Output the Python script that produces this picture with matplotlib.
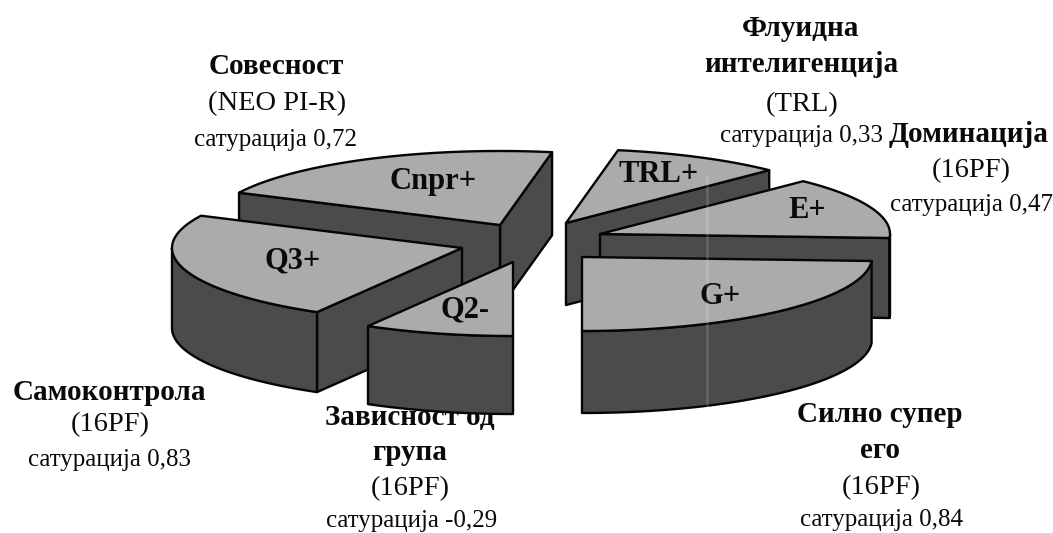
import numpy as np
import matplotlib
matplotlib.use("Agg")
import matplotlib.pyplot as plt
from matplotlib.patches import Polygon

plt.rcParams['font.family'] = ['Liberation Serif', 'DejaVu Serif']

# ---- data -----------------------------------------------------------
slice_labels = ['G+', 'E+', 'TRL+', 'Cnpr+', 'Q3+', 'Q2-']
saturation = [0.84, 0.47, 0.33, 0.72, 0.83, -0.29]
headings = [['Силно супер', 'его'], ['Доминација'], ['Флуидна', 'интелигенција'],
            ['Совесност'], ['Самоконтрола'], ['Зависност од', 'група']]
sources = ['(16PF)', '(16PF)', '(TRL)', '(NEO PI-R)', '(16PF)', '(16PF)']
sat_text = ['сатурација 0,84', 'сатурација 0,47', 'сатурација 0,33',
            'сатурација 0,72', 'сатурација 0,83', 'сатурација -0,29']

# ---- layout / style --------------------------------------------------
W, H = 1053, 533
START = -90.0
RX, RY = 290, 74
depth = [82, 80, 82, 83, 80, 78]
apex = [(582, 257), (600, 234), (566, 223), (500, 225), (462, 248), (513, 262)]
label_xy = [(720, 296), (807, 211), (659, 174), (433, 182), (293, 261), (465, 310)]
draw_order = [3, 4, 5, 2, 1, 0]
text_rows = [
    [(880, 414), (880, 450), (881, 488), (881, 520)],
    [(969, 135), (971, 171), (971, 205)],
    [(801, 29), (801, 65), (802, 105), (802, 136)],
    [(276, 66), (277, 104), (276, 140)],
    [(109, 393), (110, 425), (110, 460)],
    [(410, 418), (410, 453), (410, 489), (412, 521)],
]
TOP = '#ababab'
SIDE = '#4b4b4b'
EDGE = '#050505'
LW = 1.7
INK = '#0a0a0a'

fig = plt.figure(figsize=(W / 100, H / 100), dpi=100, facecolor='white')
ax = fig.add_axes([0, 0, 1, 1])
ax.set_xlim(0, W)
ax.set_ylim(H, 0)
ax.axis('off')

# text sits below the slices: the slices cover its top edge
for heads, src, sat, rows in zip(headings, sources, sat_text, text_rows):
    strings = heads + [src, sat]
    for i, (s, (x, y)) in enumerate(zip(strings, rows)):
        if i < len(heads):
            ax.text(x, y, s, ha='center', va='center', fontsize=21, fontweight='bold', color=INK, zorder=1)
        elif i == len(heads):
            ax.text(x, y, s, ha='center', va='center', fontsize=20.5, color=INK, zorder=1)
        else:
            ax.text(x, y, s, ha='center', va='center', fontsize=18, color=INK, zorder=1)

sizes = np.abs(saturation)
edges = START + np.concatenate([[0], np.cumsum(sizes)]) / sizes.sum() * 360


def pt(c, t):
    t = np.radians(t)
    return np.column_stack([c[0] + RX * np.cos(t), c[1] - RY * np.sin(t)])


z = 2
for k in draw_order:
    c, a1, a2, d = apex[k], edges[k], edges[k + 1], depth[k]
    # straight walls, only if they face the viewer
    for a, n in ((a1, a1 - 90), (a2, a2 + 90)):
        if np.sin(np.radians(n)) < -1e-6:
            p = pt(c, np.array([a]))[0]
            quad = [c, p, (p[0], p[1] + d), (c[0], c[1] + d)]
            ax.add_patch(Polygon(quad, fc=SIDE, ec=EDGE, lw=LW, zorder=z, joinstyle='round'))
            z += 1
    # outer wall: the part of the arc on the near half
    ts = np.linspace(a1, a2, 120)
    near = ts[np.sin(np.radians(ts)) < 0]
    if len(near) > 1:
        arc = pt(c, near)
        low = arc + [0, d]
        ax.add_patch(Polygon(np.vstack([arc, low[::-1]]), fc=SIDE, ec=EDGE, lw=LW, zorder=z, joinstyle='round'))
        z += 1
    # top face
    ax.add_patch(Polygon(np.vstack([[c], pt(c, ts)]), fc=TOP, ec=EDGE, lw=LW, zorder=z, joinstyle='round'))
    z += 1

for s, (x, y) in zip(slice_labels, label_xy):
    ax.text(x, y, s, ha='center', va='center', fontsize=22, fontweight='bold', color=INK, zorder=z)

# pale scanner streak across the right-hand slices
ax.plot([707, 707], [176, 405], color='white', lw=2, alpha=0.15, zorder=z + 1)

fig.savefig('out.png', dpi=100, facecolor='white')
